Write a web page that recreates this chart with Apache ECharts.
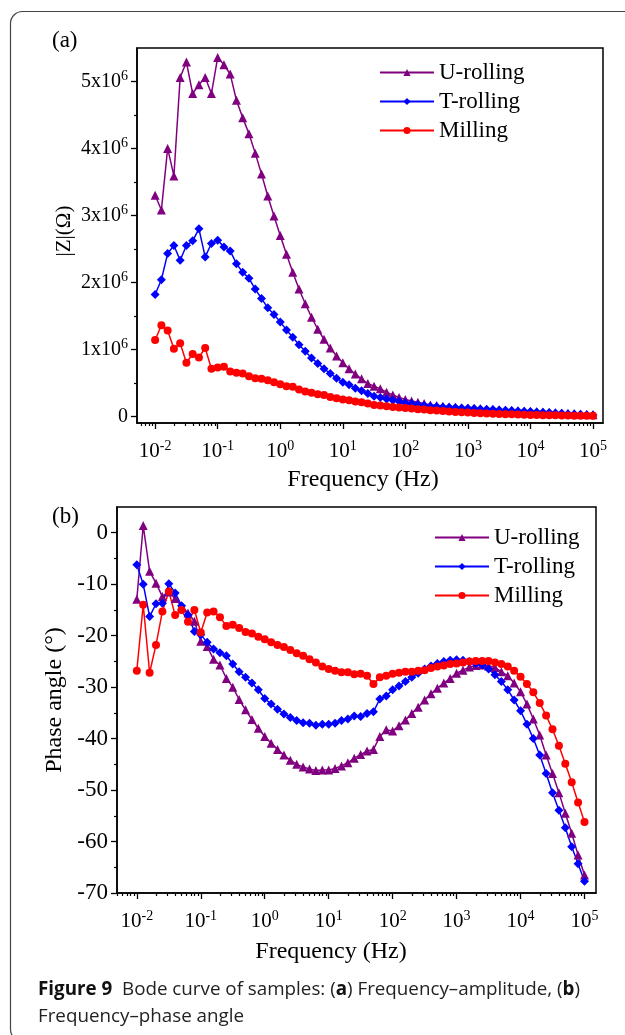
<!DOCTYPE html>
<html>
<head>
<meta charset="utf-8">
<script src="https://cdn.jsdelivr.net/npm/echarts@6/dist/echarts.min.js"></script>
<style>
html,body{margin:0;padding:0;background:#fff}
#main{width:625px;height:1035px}
</style>
</head>
<body>
<div id="main"></div>
<script>
// frequency grid, log10(Hz), 10 points per decade
var logF = [-2,-1.9,-1.8,-1.7,-1.6,-1.5,-1.4,-1.3,-1.2,-1.1,
  -1,-0.9,-0.8,-0.7,-0.6,-0.5,-0.4,-0.3,-0.2,-0.1,
  0,0.1,0.2,0.3,0.4,0.5,0.6,0.7,0.8,0.9,
  1,1.1,1.2,1.3,1.4,1.5,1.6,1.7,1.8,1.9,
  2,2.1,2.2,2.3,2.4,2.5,2.6,2.7,2.8,2.9,
  3,3.1,3.2,3.3,3.4,3.5,3.6,3.7,3.8,3.9,
  4,4.1,4.2,4.3,4.4,4.5,4.6,4.7,4.8,4.9,5];

// |Z| in units of 10^6 ohm
var zU = [3.30,3.08,4.00,3.59,5.06,5.29,4.82,4.95,5.06,4.82,
  5.36,5.25,5.11,4.72,4.46,4.22,3.93,3.62,3.29,2.99,
  2.70,2.42,2.15,1.90,1.68,1.48,1.30,1.15,1.02,0.90,
  0.80,0.71,0.63,0.56,0.49,0.45,0.41,0.36,0.32,0.28,
  0.25,0.23,0.21,0.19,0.17,0.16,0.15,0.14,0.13,0.125,
  0.12,0.117,0.112,0.107,0.102,0.097,0.092,0.087,0.082,0.077,
  0.072,0.067,0.062,0.057,0.052,0.047,0.042,0.037,0.032,0.027,0.022];
var zT = [1.82,2.04,2.43,2.55,2.33,2.55,2.62,2.80,2.38,2.58,
  2.63,2.53,2.47,2.28,2.15,2.06,1.90,1.76,1.62,1.52,
  1.41,1.29,1.18,1.07,0.97,0.87,0.79,0.71,0.64,0.57,
  0.51,0.47,0.42,0.38,0.34,0.30,0.28,0.26,0.24,0.22,
  0.20,0.19,0.175,0.16,0.15,0.145,0.14,0.135,0.13,0.125,
  0.12,0.115,0.11,0.105,0.10,0.095,0.09,0.085,0.08,0.075,
  0.07,0.065,0.06,0.055,0.05,0.045,0.04,0.035,0.03,0.025,0.02];
var zM = [1.14,1.36,1.28,1.01,1.09,0.80,0.93,0.88,1.02,0.71,
  0.73,0.74,0.67,0.65,0.64,0.60,0.57,0.56,0.54,0.51,
  0.48,0.45,0.44,0.40,0.37,0.35,0.33,0.32,0.29,0.27,
  0.25,0.24,0.22,0.21,0.19,0.17,0.16,0.15,0.14,0.13,
  0.125,0.115,0.105,0.10,0.09,0.085,0.08,0.072,0.066,0.06,
  0.055,0.05,0.046,0.042,0.038,0.035,0.032,0.029,0.026,0.023,
  0.02,0.019,0.017,0.016,0.014,0.012,0.011,0.01,0.009,0.008,0.007];

// phase angle, degrees
var phU = [-12.9,1.4,-7.5,-9.8,-12.4,-11.5,-12.8,-14.3,-15.6,-17.2,
  -21.1,-22.1,-24.6,-25.7,-28.3,-30.0,-32.4,-34.4,-36.3,-38.0,
  -39.6,-40.9,-42.1,-43.2,-44.2,-45.0,-45.5,-45.9,-46.2,-46.1,
  -46.1,-45.8,-45.3,-44.7,-43.8,-43.1,-42.4,-42.1,-39.6,-38.3,
  -38.5,-37.5,-36.4,-35.1,-33.9,-32.5,-31.3,-30.2,-29.2,-28.3,
  -27.3,-26.7,-26.1,-25.8,-25.7,-25.9,-26.2,-27.0,-27.8,-29.2,
  -30.9,-33.3,-36.2,-39.3,-43.2,-46.8,-50.5,-54.5,-58.4,-62.6,-66.5];
var phT = [-6.2,-10.0,-16.3,-13.8,-13.7,-9.9,-11.7,-14.2,-16.0,-19.2,
  -19.8,-21.3,-22.6,-23.3,-23.9,-25.5,-27.0,-28.1,-29.2,-30.5,
  -32.2,-33.3,-34.3,-35.2,-35.9,-36.5,-36.9,-37.0,-37.4,-37.2,
  -37.2,-37.0,-36.5,-36.2,-35.6,-35.7,-35.1,-34.8,-32.3,-31.7,
  -30.5,-29.8,-28.9,-28.1,-27.3,-26.5,-25.9,-25.4,-25.0,-24.8,
  -24.7,-24.8,-25.0,-25.4,-25.7,-26.5,-27.6,-28.9,-30.5,-32.5,
  -34.6,-37.2,-40.0,-43.2,-46.8,-50.5,-53.9,-57.3,-61.0,-64.3,-67.7];
var phM = [-26.8,-14.0,-27.2,-21.8,-15.3,-11.4,-16.0,-15.0,-17.3,-15.0,
  -19.4,-15.5,-15.3,-16.4,-18.1,-17.9,-18.5,-19.3,-19.6,-20.2,
  -20.7,-21.3,-21.8,-22.2,-22.8,-23.4,-23.9,-24.6,-25.2,-26.0,
  -26.5,-26.8,-27.1,-27.1,-27.5,-27.4,-27.8,-29.4,-28.1,-27.8,
  -27.4,-27.2,-27.0,-27.0,-26.8,-26.7,-26.3,-26.0,-25.8,-25.5,
  -25.4,-25.2,-25.0,-24.9,-24.9,-24.9,-25.2,-25.5,-26.0,-26.8,
  -28.0,-29.4,-31.0,-33.1,-35.5,-38.2,-41.4,-44.9,-48.5,-52.4,-56.2];

var names = ['U-rolling','T-rolling','Milling'];
var decades = [-2,-1,0,1,2,3,4,5];
var zTicks = [0,1,2,3,4,5];
var zMinor = [0.5,1.5,2.5,3.5,4.5];
var phTicks = [-70,-60,-50,-40,-30,-20,-10,0];
var phMinor = [-65,-55,-45,-35,-25,-15,-5];

var serif = '"Liberation Serif","Times New Roman",serif';
var black = '#000';

function pairs(ys){
  return logF.map(function(x,i){ return [x, ys[i]]; });
}
// log-spaced minor ticks between decades
function minorLog(lo, hi){
  var out = [];
  for (var n = -3; n <= 5; n++) {
    for (var m = 2; m <= 9; m++) {
      var v = n + Math.log10(m);
      if (v > lo && v < hi) out.push(v);
    }
  }
  return out;
}

var supRich = {
  s: {fontSize: 14, fontFamily: serif, color: black, verticalAlign: 'top', lineHeight: 14}
};

function xMajor(grid, lo, hi){
  return {
    type: 'value', gridIndex: grid, min: lo, max: hi, position: 'bottom',
    axisLine: {show: true, onZero: false, lineStyle: {color: black, width: 1.5}},
    axisTick: {show: true, inside: false, length: 6, customValues: decades, lineStyle: {color: black, width: 1.3}},
    axisLabel: {
      customValues: decades, margin: 16, fontSize: 21, lineHeight: 24, fontFamily: serif, color: black,
      formatter: function(v){ return '10{s|' + v + '}'; }, rich: supRich
    },
    splitLine: {show: false}
  };
}
function xMinor(grid, lo, hi){
  return {
    type: 'value', gridIndex: grid, min: lo, max: hi, position: 'bottom',
    axisLine: {show: false, onZero: false},
    axisTick: {show: true, length: 3, customValues: minorLog(lo, hi), lineStyle: {color: black, width: 1.2}},
    axisLabel: {show: false},
    splitLine: {show: false}
  };
}
function yMinor(grid, lo, hi, vals){
  return {
    type: 'value', gridIndex: grid, min: lo, max: hi, position: 'left',
    axisLine: {show: false, onZero: false},
    axisTick: {show: true, length: 3, customValues: vals, lineStyle: {color: black, width: 1.2}},
    axisLabel: {show: false},
    splitLine: {show: false}
  };
}

function line(name, data, ax, sym, size, color){
  return {
    name: name, type: 'line', xAxisIndex: ax, yAxisIndex: ax,
    data: pairs(data), symbol: sym, symbolSize: size, showSymbol: true,
    lineStyle: {color: color, width: 1.5},
    itemStyle: {color: color},
    emphasis: {disabled: true}
  };
}

var colors = ['#800080', '#0000ff', '#ff0000'];

var legendBase = {
  orient: 'vertical', data: names, itemWidth: 54, itemHeight: 9, itemGap: 6,
  textStyle: {fontSize: 23, fontFamily: serif, color: black},
  selectedMode: false
};

var option = {
  animation: false,
  backgroundColor: '#fff',
  grid: [
    {left: 137, top: 48, width: 466, height: 375, show: true, borderColor: black, borderWidth: 1.5},
    {left: 117, top: 507, width: 479, height: 386, show: true, borderColor: black, borderWidth: 1.5}
  ],
  legend: [
    echarts.util.merge({left: 374, top: 56}, legendBase, true),
    echarts.util.merge({left: 429, top: 521}, legendBase, true)
  ],
  xAxis: [xMajor(0, -2.29, 5.16), xMinor(0, -2.29, 5.16), xMajor(1, -2.31, 5.18), xMinor(1, -2.31, 5.18)],
  yAxis: [
    {
      type: 'value', gridIndex: 0, min: -0.1, max: 5.5, position: 'left',
      axisLine: {show: true, onZero: false, lineStyle: {color: black, width: 1.5}},
      axisTick: {show: true, length: 6, customValues: zTicks, lineStyle: {color: black, width: 1.3}},
      axisLabel: {
        customValues: zTicks, margin: 9, fontSize: 20, lineHeight: 24, fontFamily: serif, color: black,
        formatter: function(v){ return v === 0 ? '0' : v + 'x10{s|6}'; }, rich: supRich
      },
      splitLine: {show: false}
    },
    yMinor(0, -0.1, 5.5, zMinor),
    {
      type: 'value', gridIndex: 1, min: -70, max: 5, position: 'left',
      axisLine: {show: true, onZero: false, lineStyle: {color: black, width: 1.5}},
      axisTick: {show: true, length: 6, customValues: phTicks, lineStyle: {color: black, width: 1.3}},
      axisLabel: {customValues: phTicks, margin: 9, fontSize: 23, fontFamily: serif, color: black},
      splitLine: {show: false}
    },
    yMinor(1, -70, 5, phMinor)
  ],
  series: [
    line(names[0], zU, 0, 'triangle', 9, colors[0]),
    line(names[1], zT, 0, 'diamond', 9, colors[1]),
    line(names[2], zM, 0, 'circle', 8, colors[2]),
    line(names[0], phU, 2, 'triangle', 9, colors[0]),
    line(names[1], phT, 2, 'diamond', 9, colors[1]),
    line(names[2], phM, 2, 'circle', 8, colors[2])
  ],
  graphic: [
    // figure frame
    {type: 'rect', shape: {x: 10.5, y: 11.5, width: 700, height: 1030, r: 12},
     style: {fill: 'none', stroke: '#444', lineWidth: 1.2}, silent: true},
    {type: 'text', left: 52, top: 29, style: {text: '(a)', font: '23px ' + serif, fill: black}},
    {type: 'text', left: 52, top: 505, style: {text: '(b)', font: '23px ' + serif, fill: black}},
    {type: 'text', x: 64, y: 231, rotation: Math.PI / 2,
     style: {text: '|Z|(\u03A9)', font: '21px ' + serif, fill: black, align: 'center', verticalAlign: 'middle'}},
    {type: 'text', x: 55, y: 700, rotation: Math.PI / 2,
     style: {text: 'Phase angle (\u00B0)', font: '24px ' + serif, fill: black, align: 'center', verticalAlign: 'middle'}},
    {type: 'text', x: 363, y: 480,
     style: {text: 'Frequency (Hz)', font: '24px ' + serif, fill: black, align: 'center', verticalAlign: 'middle'}},
    {type: 'text', x: 331, y: 952,
     style: {text: 'Frequency (Hz)', font: '24px ' + serif, fill: black, align: 'center', verticalAlign: 'middle'}},
    // caption
    {type: 'text', x: 38, y: 990,
     style: {
       text: '{b|Figure 9}  Bode curve of samples: ({b|a}) Frequency\u2013amplitude, ({b|b})',
       font: '18.8px "Open Sans"', fill: '#222', verticalAlign: 'middle',
       rich: {b: {fontWeight: 'bold', fontSize: 18.8, fontFamily: 'Open Sans', fill: '#111'}}
     }},
    {type: 'text', x: 38, y: 1017,
     style: {text: 'Frequency\u2013phase angle', font: '18.8px "Open Sans"', fill: '#222', verticalAlign: 'middle'}}
  ]
};

var chart = echarts.init(document.getElementById('main'), null, {renderer: 'canvas'});
chart.setOption(option);
</script>
</body>
</html>
